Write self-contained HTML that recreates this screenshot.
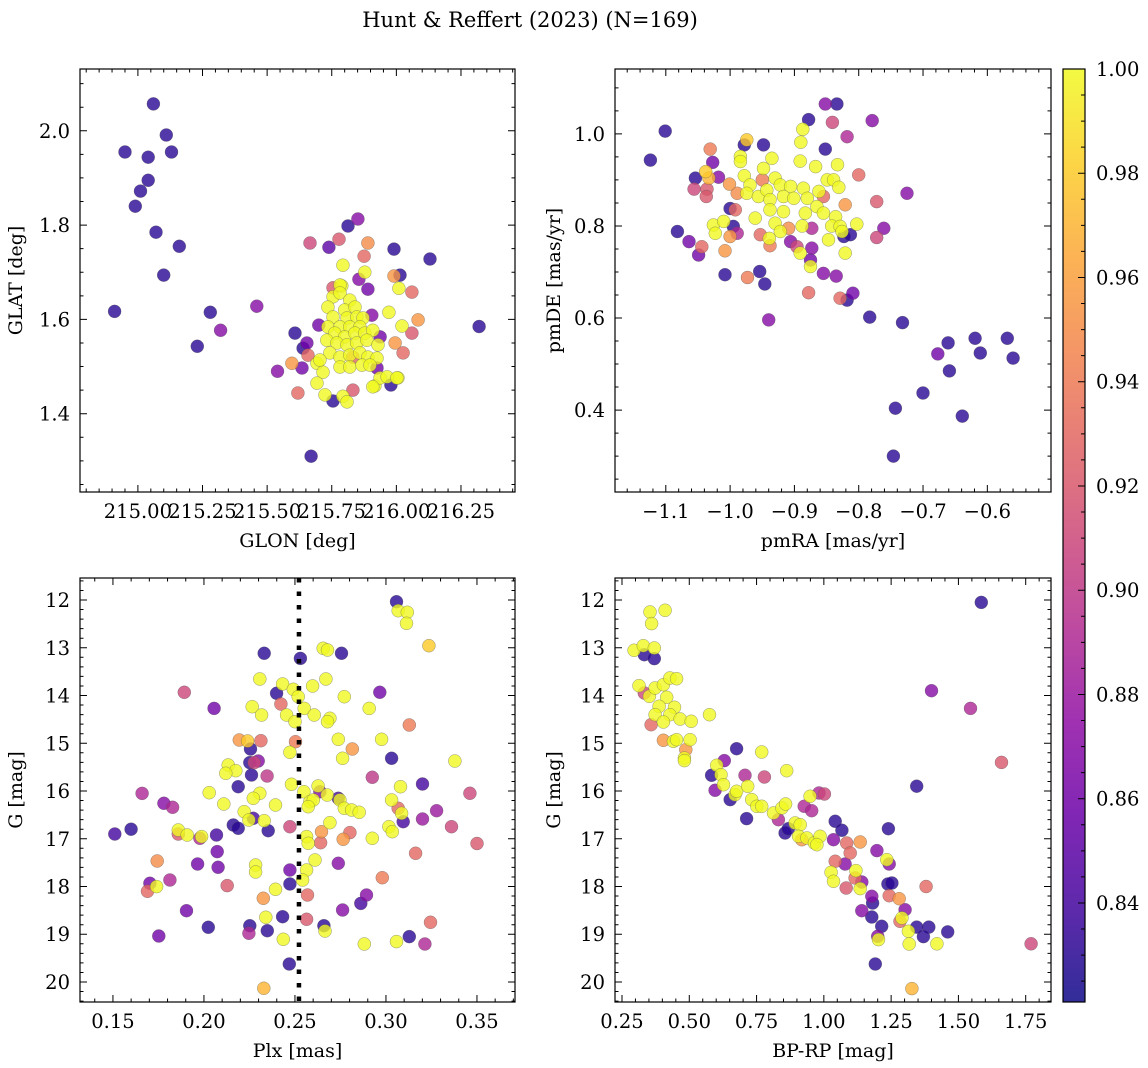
<!DOCTYPE html>
<html><head><meta charset="utf-8"><style>
html,body{margin:0;padding:0;background:#fff;}
svg{display:block;font-family:"DejaVu Serif","Liberation Serif",serif;}
</style></head><body>
<svg id="fig" width="1148" height="1068" viewBox="0 0 1148 1068" xmlns="http://www.w3.org/2000/svg">
<text x="530" y="27" font-size="21" text-anchor="middle">Hunt &amp; Reffert (2023) (N=169)</text>
</svg>
<script>
// ---------- DATA ----------
const p1Lon = [215.06,215.11,215.13,214.95,215.04,215.01,215.04,214.99,215.07,215.10,215.16,214.91,215.23,215.28,215.32,215.46,215.54,216.32,216.13,215.67,
215.851,215.813,215.666,215.739,215.778,215.89,215.875,215.991,215.793,215.878,215.855,216.014,215.991,215.89,216.01,216.06,215.789,215.971,216.084,216.022,216.06,215.995,216.026,215.608,215.70,215.654,215.639,215.658,215.596,215.635,215.693,215.716,215.693,215.619,215.724,215.755,215.793,215.809,215.832,215.917,215.979,216.006,215.937,215.925,
215.782,215.755,215.735,215.782,215.82,215.80,215.84,215.755,215.809,215.847,215.871,215.735,215.782,215.82,215.859,215.762,215.80,215.84,215.878,215.909,215.731,215.77,215.809,215.847,215.886,215.929,215.743,215.782,215.82,215.859,215.89,215.925,215.704,215.782,215.82,215.867,215.898,215.964,216.002,215.909,215.905,215.937,215.755,215.832];
const p1Lat = [2.057,1.991,1.955,1.955,1.944,1.872,1.895,1.84,1.785,1.694,1.755,1.617,1.543,1.615,1.577,1.628,1.49,1.585,1.728,1.31,
1.813,1.798,1.762,1.753,1.77,1.762,1.734,1.749,1.715,1.70,1.685,1.694,1.692,1.664,1.666,1.658,1.671,1.615,1.599,1.586,1.571,1.55,1.529,1.571,1.588,1.55,1.539,1.524,1.507,1.497,1.507,1.488,1.465,1.444,1.44,1.427,1.437,1.425,1.45,1.459,1.461,1.476,1.476,1.497,
1.673,1.648,1.626,1.656,1.641,1.62,1.626,1.605,1.603,1.605,1.603,1.584,1.584,1.584,1.584,1.571,1.563,1.571,1.571,1.577,1.556,1.55,1.546,1.55,1.556,1.546,1.529,1.52,1.524,1.529,1.52,1.518,1.514,1.499,1.499,1.503,1.503,1.478,1.476,1.457,1.609,1.563,1.667,1.52];
const p1Prob = [.83,.83,.83,.83,.83,.83,.83,.83,.83,.83,.83,.83,.83,.83,.87,.87,.87,.83,.83,.83,
.87,.83,.91,.85,.92,.95,.93,.83,1,1,.87,.83,.955,.86,1,.93,1,1,.955,1,.92,.955,.93,.83,.86,.86,.83,.93,.955,.86,1,1,1,.93,1,.83,1,1,.92,1,.83,1,1,.86,
1,1,1,1,1,1,1,1,1,1,1,1,1,1,1,1,1,1,1,1,1,1,1,1,1,1,1,1,1,1,1,1,1,1,1,1,1,1,1,1,.87,.86,.92,.93];

const p2PmRA = [-0.852,-0.834,-0.878,-0.841,-0.779,-0.818,-0.887,-0.89,-0.852,-0.948,
-0.974,-0.978,-1.031,-1.027,-0.984,-0.984,-0.935,-0.891,-0.867,-0.833,
-0.80,-1.038,-1.033,-1.054,-1.018,-1.056,-1.036,-1.037,-1.001,-0.978,
-0.969,-0.948,-0.95,-0.93,-0.922,-0.906,-0.886,-0.862,-0.849,-0.839,
-0.831,-0.989,-0.974,-0.956,-0.943,-0.938,-0.917,-0.901,-0.88,-0.865,
-0.855,-0.821,-0.772,-0.725,-1.0,-0.992,-0.961,-0.938,-0.917,-0.883,
-0.855,-0.836,-0.803,-1.026,-1.01,-1.023,-1.0,-0.995,-0.989,-0.953,
-0.939,-0.93,-0.922,-0.909,-0.888,-0.873,-0.842,-0.829,-0.823,-0.813,
-0.826,-0.847,-0.761,-0.772,-1.082,-1.064,-1.044,-1.049,-1.008,-0.938,
-0.906,-0.896,-0.873,-0.891,-0.875,-0.875,-0.821,-1.008,-0.973,-0.954,
-0.946,-0.878,-0.855,-0.835,-0.809,-0.829,-0.818,-0.94,-0.783,-0.732,
-1.124,-1.101,-0.677,-0.661,-0.70,-0.659,-0.619,-0.611,-0.569,-0.56,-0.639,-0.743,-0.746];
const p2PmDE = [1.065,1.065,1.031,1.025,1.029,0.994,1.01,0.982,0.967,0.976,
0.987,0.976,0.967,0.938,0.951,0.940,0.947,0.941,0.929,0.933,
0.911,0.918,0.904,0.904,0.906,0.88,0.88,0.864,0.891,0.909,
0.889,0.925,0.90,0.904,0.889,0.886,0.882,0.875,0.90,0.90,
0.884,0.871,0.871,0.864,0.878,0.857,0.864,0.86,0.86,0.842,
0.864,0.846,0.853,0.871,0.838,0.835,0.817,0.835,0.831,0.828,
0.828,0.82,0.804,0.802,0.81,0.784,0.777,0.799,0.784,0.781,
0.773,0.806,0.788,0.795,0.80,0.795,0.80,0.799,0.777,0.781,
0.788,0.77,0.795,0.775,0.788,0.766,0.755,0.737,0.746,0.757,
0.766,0.755,0.752,0.741,0.726,0.712,0.741,0.694,0.688,0.701,
0.674,0.655,0.697,0.691,0.654,0.643,0.639,0.596,0.602,0.59,
0.943,1.006,0.522,0.546,0.437,0.485,0.556,0.524,0.556,0.513,0.387,0.404,0.30];
const p2Prob = [.87,.83,.83,.91,.87,.89,1,1,.83,.83,
.98,.83,.94,.86,1,1,1,1,1,1,
.93,.98,.97,.83,.87,.91,.92,.92,.955,1,
1,1,.94,1,1,1,1,1,1,1,
1,.95,1,1,1,1,1,1,1,1,
.93,.955,.92,.87,.83,.93,1,1,1,1,
1,1,1,1,1,1,.955,.83,.89,.93,
1,1,1,.95,1,.89,1,1,.83,.83,
1,1,.87,.91,.83,.86,.93,.86,.955,.94,
.87,.91,.87,1,.86,1,1,.83,.94,.83,
.83,.93,.87,.87,.86,.93,.83,.87,.83,.83,
.83,.83,.86,.83,.83,.83,.83,.83,.83,.83,.83,.83,.83];

const p3Plx = [.3058,.3067,.3117,.3113,.3236,.2331,.253,.2655,.2679,.2756,
.2307,.267,.2597,.2432,.2491,.2518,.2399,.1892,.2966,.2056,
.2265,.2317,.2423,.2454,.2551,.2606,.2692,.2679,.25,.2771,
.2908,.3128,.2194,.224,.2313,.2503,.2472,.2738,.2815,.2762,
.2976,.3031,.3379,.2256,.2252,.2276,.2298,.2133,.2175,.212,
.2261,.2347,.2925,.2188,.2029,.2307,.2271,.2109,.2393,.2481,
.2549,.2627,.2637,.2677,.2738,.2747,.2771,.2811,.2853,.2582,
.2601,.2573,.308,.3031,.3067,.3086,.3095,.3201,.3201,.3278,
.336,.3461,.178,.1828,.2161,.2188,.2221,.2247,.2271,.2331,
.2353,.2472,.2692,.1859,.1859,.1908,.1978,.1987,.2069,.2073,
.2078,.1965,.2128,.1743,.1813,.174,.1703,.2646,.2802,.2765,
.2641,.2564,.2573,.2925,.3016,.3035,.3163,.2738,.261,.2564,
.2542,.2472,.2472,.2284,.2284,.2393,.2569,.2326,.298,.2893,
.2862,.2762,.3245,.1904,.2024,.2252,.2247,.2348,.234,.2432,
.2436,.2564,.2659,.2665,.2881,.3058,.3128,.3214,.1752,.2469,
.2329,.151,.160,.166,.169,.350];
const p3G = [12.035,12.223,12.258,12.488,12.956,13.117,13.222,13.012,13.047,13.117,
13.654,13.654,13.801,13.759,13.871,14.024,13.954,13.933,13.933,14.269,
14.234,14.408,14.178,14.408,14.269,14.408,14.478,14.548,14.548,14.024,
14.269,14.618,14.932,14.953,14.946,14.967,15.19,14.918,15.12,15.316,
14.918,15.316,15.372,15.12,15.406,15.406,15.372,15.455,15.574,15.63,
15.665,15.686,15.714,15.909,16.035,16.049,16.153,16.272,16.293,15.86,
16.014,15.895,16.014,16.084,16.153,16.188,16.363,16.398,16.447,16.223,
16.188,16.328,15.909,16.188,16.363,16.468,16.642,15.853,16.586,16.412,
16.747,16.049,16.258,16.342,16.712,16.782,16.433,16.607,16.572,16.621,
16.831,16.747,16.663,16.817,16.901,16.922,16.991,16.956,16.922,17.27,
17.598,17.529,17.982,17.466,17.864,18.003,17.933,16.852,16.872,17.012,
17.082,16.956,17.096,16.991,16.747,16.852,17.305,17.515,17.445,17.654,
17.864,17.654,17.947,17.55,17.696,18.059,18.178,18.248,17.815,18.178,
18.353,18.492,18.75,18.506,18.855,18.82,18.981,18.925,18.646,18.632,
19.106,18.687,18.82,18.932,19.204,19.155,19.05,19.204,19.036,19.623,
20.133,16.9,16.8,16.05,18.1,17.1];
const p3Prob = [.83,1,1,1,.98,.83,.83,1,1,.83,
1,1,1,1,1,1,.83,.91,.86,.86,
1,1,.93,1,1,1,1,1,1,1,
1,.94,.955,.98,.93,.94,1,1,.955,1,
1,.83,1,.83,.83,.91,.87,1,1,1,
.83,.9,.9,.83,1,1,1,1,1,1,
1,1,.87,1,.84,1,1,1,1,1,
1,1,1,1,.93,1,.84,.84,.88,.88,
.91,.91,.87,.89,.83,.83,1,1,.84,1,
.83,.91,1,1,.92,1,.89,1,.84,.86,
.86,.86,.92,.95,.89,1,.86,.955,.93,.955,
.93,1,1,1,1,1,.93,.87,1,1,
1,.86,.83,1,1,1,.93,.955,.94,.87,
.84,.87,.93,.86,.83,.83,.89,.83,1,.83,
1,.92,.83,1,1,1,.83,.89,.86,.83,
.97,.84,.83,.89,.93,.92];
const p3MedianPlx = 0.2522;

const p4Color = [.354,.41,.36,.295,.329,.37,.333,.37,.313,.333,
.352,.373,.404,.428,.453,.416,.388,.445,.373,.428,
.466,.507,.404,.358,.575,.404,.441,.453,.503,.487,
.482,.482,.676,.769,.862,.583,.602,.63,.618,.596,
.627,.652,.67,.676,.707,.779,.717,.713,.732,.751,
.769,.813,.831,.844,.858,.856,.868,.893,.912,.906,
.918,.937,.965,.986,.974,.949,.927,.955,.982,1.002,
1.042,1.067,1.036,1.085,1.098,1.135,1.042,1.079,1.027,1.036,
1.119,1.116,1.083,1.141,1.135,1.197,1.234,1.243,1.24,1.238,
1.253,1.243,1.28,1.178,1.181,1.141,1.178,1.215,1.2,1.203,
1.191,1.302,1.29,1.283,1.314,1.317,1.327,1.585,1.40,1.545,
1.345,1.66,1.77,1.38,1.42,1.46,1.39,1.37,1.345];
const p4G = [12.251,12.216,12.495,13.054,12.956,13.005,13.145,13.228,13.794,13.947,
14.017,13.843,13.773,13.633,13.647,14.038,14.227,14.248,14.401,14.401,
14.492,14.541,14.555,14.611,14.401,14.939,14.96,14.925,14.925,15.134,
15.309,15.364,15.113,15.183,15.574,15.672,15.462,15.364,15.658,15.986,
15.867,16.181,16.077,16.007,15.672,15.707,15.902,16.579,16.181,16.321,
16.321,16.46,16.6,16.356,16.272,16.879,16.789,16.67,16.705,16.949,
17.019,16.984,17.089,16.949,17.124,16.111,16.321,16.412,16.042,16.063,
16.635,16.824,17.019,17.089,17.298,17.068,17.473,17.529,17.703,17.892,
17.668,17.822,18.031,17.905,18.045,17.249,17.438,17.529,16.789,17.947,
17.926,18.192,18.255,18.206,18.345,18.506,18.638,18.834,19.043,19.113,
19.623,18.485,18.659,18.729,18.939,19.204,20.139,12.05,13.9,14.27,
15.9,15.4,19.2,18.0,19.2,18.95,18.85,19.05,18.85];
const p4Prob = [1,1,1,1,1,1,.83,.83,1,.91,
1,1,1,1,1,1,1,1,1,1,
1,1,1,.93,1,.955,1,1,1,.955,
1,1,.83,1,1,.83,1,.87,1,.87,
1,.83,1,1,.89,.91,1,.83,1,1,
1,1,.89,1,1,.83,.83,1,1,1,
.955,1,1,1,1,1,.89,.89,.89,.91,
.83,.83,.87,.93,.93,.955,.93,.87,1,1,
1,.93,.92,.87,1,.87,1,.87,.83,.83,
.83,.93,.955,.87,.83,.87,.83,.83,.87,1,
.83,.87,1,.93,1,1,.97,.83,.87,.89,
.83,.92,.91,.93,1,.83,.83,.83,.83];

const cbarTicks = [0.84,0.86,0.88,0.90,0.92,0.94,0.96,0.98,1.00];

// ---------- RENDER ----------
const NS = 'http://www.w3.org/2000/svg';
const svg = document.getElementById('fig');
const VMIN = 0.821, VMAX = 1.0;
const plasmaStops = ['#0d0887','#41049d','#6a00a8','#8f0da4','#b12a90','#cc4778','#e16462','#f2844b','#fca636','#fcce25','#f0f921'];
function hex(h){return [parseInt(h.substr(1,2),16),parseInt(h.substr(3,2),16),parseInt(h.substr(5,2),16)];}
function plasma(t){
  t=Math.max(0,Math.min(1,t));
  const f=t*10, i=Math.min(9,Math.floor(f)), r=f-i;
  const a=hex(plasmaStops[i]), b=hex(plasmaStops[i+1]);
  return 'rgb('+a.map((v,k)=>Math.round(v+(b[k]-v)*r)).join(',')+')';
}
function el(tag, attrs, parent){
  const e=document.createElementNS(NS,tag);
  for(const k in attrs) e.setAttribute(k,attrs[k]);
  (parent||svg).appendChild(e);
  return e;
}
function fmt(v,d){ const s=Math.abs(v).toFixed(d); return (v<-1e-9?'\u2212':'')+s; }

function panel(cfg, xs, ys, ps){
  const g=el('g',{});
  
  
  const {x0,x1,y0,y1}=cfg;
  const X=v=>x0+(v-cfg.xmin)/(cfg.xmax-cfg.xmin)*(x1-x0);
  const Y=cfg.yinv ? (v=>y0+(v-cfg.ymin)/(cfg.ymax-cfg.ymin)*(y1-y0))
                   : (v=>y1-(v-cfg.ymin)/(cfg.ymax-cfg.ymin)*(y1-y0));
  const idx=xs.map((_,i)=>i).sort((a,b)=>ps[a]-ps[b]);
  const pg=el('g',{},g);
  
  
  idx.forEach(i=>{
    const c=el('circle',{cx:X(xs[i]).toFixed(1),cy:Y(ys[i]).toFixed(1),r:6.5,fill:plasma((ps[i]-VMIN)/(VMAX-VMIN)),'fill-opacity':0.8,stroke:'#555','stroke-width':0.5,'stroke-opacity':0.6},pg);
    
    
  });
  if(cfg.vline!==undefined){
    const l=el('line',{x1:X(cfg.vline),x2:X(cfg.vline),y1:y0,y2:y1,stroke:'#000','stroke-width':4.5,'stroke-dasharray':'4.5 9'},g);
    
    
  }
  const fr=el('rect',{x:x0,y:y0,width:x1-x0,height:y1-y0,fill:'none',stroke:'#000','stroke-width':1.2},g);
  
  
  let d='';
  const eps=1e-9;
  for(let v=Math.ceil(cfg.xmin/cfg.xminor-eps)*cfg.xminor; v<=cfg.xmax+eps; v+=cfg.xminor){
    const px=X(v); d+=`M${px},${y1}v-3.5M${px},${y0}v3.5`;
  }
  for(let v=Math.ceil(cfg.ymin/cfg.yminor-eps)*cfg.yminor; v<=cfg.ymax+eps; v+=cfg.yminor){
    const py=Y(v); d+=`M${x0},${py}h3.5M${x1},${py}h-3.5`;
  }
  cfg.xmajor.forEach(v=>{const px=X(v); d+=`M${px},${y1}v-7M${px},${y0}v7`;});
  cfg.ymajor.forEach(v=>{const py=Y(v); d+=`M${x0},${py}h7M${x1},${py}h-7`;});
  const tk=el('path',{d:d,stroke:'#000','stroke-width':1,fill:'none'},g);
  
  
  cfg.xmajor.forEach(v=>{
    const t=el('text',{x:X(v),y:y1+26,'font-size':19.5,'text-anchor':'middle'},g);
    t.textContent=fmt(v,cfg.xdec);
    
    
  });
  cfg.ymajor.forEach(v=>{
    const t=el('text',{x:x0-10,y:Y(v)+7,'font-size':19.5,'text-anchor':'end'},g);
    t.textContent=fmt(v,cfg.ydec);
    
    
  });
  const xl=el('text',{x:(x0+x1)/2,y:y1+55,'font-size':19,'text-anchor':'middle'},g);
  xl.textContent=cfg.xlabel;
  
  
  const yc=(y0+y1)/2;
  const yl=el('text',{x:cfg.ylabX,y:yc,'font-size':19,'text-anchor':'middle',transform:`rotate(-90 ${cfg.ylabX} ${yc})`},g);
  yl.textContent=cfg.ylabel;
  
  
}
function rng(a,b,s){const r=[];for(let v=a;v<=b+1e-9;v+=s)r.push(Math.round(v*1000)/1000);return r;}

panel({name:'glon-glat-panel',x0:80,x1:515,y0:69,y1:492,xmin:214.776,xmax:216.459,ymin:1.234,ymax:2.131,
  xmajor:rng(215,216.25,0.25),xminor:0.05,xdec:2,ymajor:rng(1.4,2.0,0.2),yminor:0.05,ydec:1,
  xlabel:'GLON [deg]',ylabel:'GLAT [deg]',ylabX:22}, p1Lon,p1Lat,p1Prob);
panel({name:'proper-motion-panel',x0:615,x1:1051,y0:69,y1:492,xmin:-1.179,xmax:-0.501,ymin:0.222,ymax:1.141,
  xmajor:rng(-1.1,-0.6,0.1),xminor:0.02,xdec:1,ymajor:rng(0.4,1.0,0.2),yminor:0.05,ydec:1,
  xlabel:'pmRA [mas/yr]',ylabel:'pmDE [mas/yr]',ylabX:560}, p2PmRA,p2PmDE,p2Prob);
panel({name:'parallax-panel',x0:80,x1:515,y0:578,y1:1002,xmin:0.1319,xmax:0.3709,ymin:11.539,ymax:20.419,yinv:true,
  xmajor:rng(0.15,0.35,0.05),xminor:0.01,xdec:2,ymajor:rng(12,20,1),yminor:0.2,ydec:0,
  xlabel:'Plx [mas]',ylabel:'G [mag]',ylabX:22,vline:p3MedianPlx}, p3Plx,p3G,p3Prob);
panel({name:'cmd-panel',x0:615,x1:1051,y0:578,y1:1002,xmin:0.224,xmax:1.844,ymin:11.539,ymax:20.419,yinv:true,
  xmajor:rng(0.25,1.75,0.25),xminor:0.05,xdec:2,ymajor:rng(12,20,1),yminor:0.2,ydec:0,
  xlabel:'BP-RP [mag]',ylabel:'G [mag]',ylabX:560}, p4Color,p4G,p4Prob);

// colorbar
(function(){
  const cx0=1063,cx1=1085,cy0=69,cy1=1002;
  const defs=el('defs',{});
  const lg=el('linearGradient',{id:'plasmaGrad',x1:0,y1:1,x2:0,y2:0},defs);
  for(let i=0;i<=20;i++){el('stop',{offset:(i/20),'stop-color':plasma(i/20),'stop-opacity':0.85},lg);}
  const g=el('g',{});
  
  
  const r=el('rect',{x:cx0,y:cy0,width:cx1-cx0,height:cy1-cy0,fill:'url(#plasmaGrad)',stroke:'#000','stroke-width':1.2},g);
  
  
  const Y=v=>cy1-(v-VMIN)/(VMAX-VMIN)*(cy1-cy0);
  let d='';
  for(let v=0.825;v<=1.0001;v+=0.005){d+=`M${cx1},${Y(v)}h-4`;}
  cbarTicks.forEach(v=>{d+=`M${cx1},${Y(v)}h-7`;});
  const tk=el('path',{d:d,stroke:'#000','stroke-width':1},g);
  
  
  cbarTicks.forEach(v=>{
    const t=el('text',{x:1096,y:Y(v)+7,'font-size':19.5},g);
    t.textContent=v.toFixed(2);
    
    
  });
})();
</script>
</body></html>
